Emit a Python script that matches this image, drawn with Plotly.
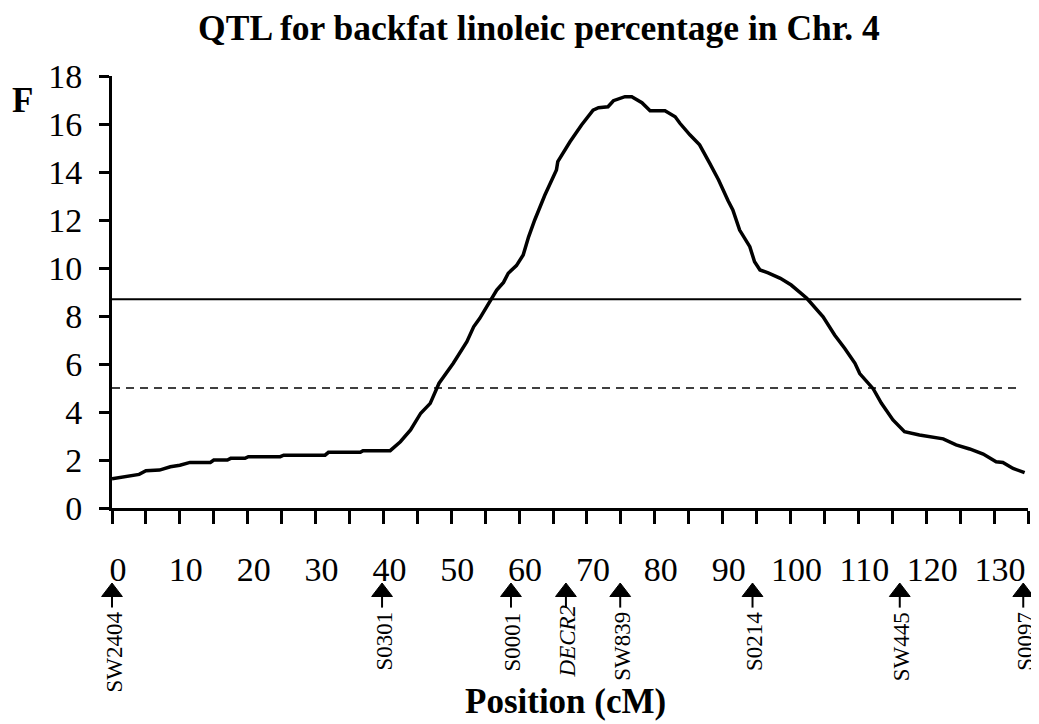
import plotly.graph_objects as go

# ---- data ----
position_cm = [0, 2, 4, 5, 7, 8.6, 10, 11.5, 14.5, 15, 17, 17.5, 19.6, 20.1, 24.8, 25.3,
               31.4, 31.9, 36.6, 37, 41, 42.5, 44, 45.5, 46.9, 48.2, 50.3, 52.3, 53.3, 54.2,
               55.7, 56.7, 57.7, 58.4, 59.6, 60.6, 61.4, 62.3, 63.8, 65.5, 65.7, 67.5, 69.2,
               70.9, 71.7, 73.1, 73.9, 75.6, 76.6, 78.1, 79.3, 81.5, 83, 83.7, 85.2, 86.6,
               88.1, 89.4, 90.8, 91.5, 92.5, 94, 94.7, 95.5, 96.7, 98.5, 100.1, 102.4, 104.8,
               106.5, 108, 109.5, 110.2, 112.2, 113.4, 115.1, 116.8, 119, 122.5, 124.4, 126.4,
               128.4, 130.3, 131.3, 132.8, 134.5]
f_value = [1.22, 1.32, 1.40, 1.55, 1.58, 1.72, 1.78, 1.90, 1.90, 2.00, 2.00, 2.07, 2.07, 2.14,
           2.14, 2.20, 2.20, 2.32, 2.32, 2.39, 2.39, 2.76, 3.25, 3.95, 4.36, 5.20, 6.03, 6.93,
           7.55, 7.90, 8.60, 9.08, 9.40, 9.78, 10.10, 10.54, 11.30, 12.00, 13.04, 14.08, 14.43,
           15.26, 15.96, 16.58, 16.68, 16.72, 16.97, 17.14, 17.14, 16.89, 16.55, 16.55, 16.30,
           16.03, 15.54, 15.13, 14.36, 13.67, 12.80, 12.42, 11.58, 10.89, 10.26, 9.92, 9.80,
           9.57, 9.29, 8.74, 7.97, 7.21, 6.65, 6.03, 5.60, 4.96, 4.36, 3.67, 3.18, 3.04, 2.88,
           2.63, 2.46, 2.25, 1.93, 1.90, 1.65, 1.47]

threshold_span = [0, 134]
threshold_solid = 8.7
threshold_dashed = 5.0

marker_names = ["SW2404", "S0301", "S0001", "<i>DECR2</i>", "SW839", "S0214", "SW445", "S0097"]
marker_pos = [0, 39.8, 58.8, 66.9, 74.9, 94.4, 116.1, 134.3]

x_tick_vals = list(range(0, 136, 5))
x_tick_text = [str(v) if v % 10 == 0 else "" for v in x_tick_vals]

# ---- style ----
FONT = "Liberation Serif, Times New Roman, serif"
W, H = 1031, 716          # page body has an 8px margin inside the 1039x724 window
ML, MR, MT, MB = 104, 11, 68, 10
PLOT_BOTTOM = 500         # figure px where F = 0
Y_DOMAIN_LOW = (H - MB - PLOT_BOTTOM) / (H - MT - MB)
# y2 = strip under the x axis, measured in px below the axis
ARROW_Y = -84
STEM_Y = -94
LABEL_Y = -102
label_yshift = {"<i>DECR2</i>": 8}

fig = go.Figure()

fig.add_trace(go.Scatter(x=threshold_span, y=[threshold_solid] * 2, mode="lines",
                         line=dict(color="black", width=2), hoverinfo="skip"))
fig.add_trace(go.Scatter(x=threshold_span, y=[threshold_dashed] * 2, mode="lines",
                         line=dict(color="black", width=1.3, dash="8px,6px"), hoverinfo="skip"))
fig.add_trace(go.Scatter(x=position_cm, y=f_value, mode="lines",
                         line=dict(color="black", width=3.5)))

# marker arrows
fig.add_trace(go.Scatter(x=marker_pos, y=[STEM_Y] * len(marker_pos), mode="markers",
                         yaxis="y2",
                         marker=dict(symbol="line-ns", size=8,
                                     line=dict(color="black", width=2)),
                         cliponaxis=False, hoverinfo="skip"))
fig.add_trace(go.Scatter(x=marker_pos, y=[ARROW_Y] * len(marker_pos), mode="markers",
                         yaxis="y2",
                         marker=dict(symbol="triangle-up", size=18, color="black",
                                     line=dict(color="black", width=1)),
                         cliponaxis=False, hoverinfo="skip"))

for name, pos in zip(marker_names, marker_pos):
    fig.add_annotation(x=pos, y=LABEL_Y, xref="x", yref="y2", text=name, showarrow=False,
                       textangle=-90, xanchor="center", yanchor="top", xshift=2,
                       yshift=label_yshift.get(name, 0),
                       font=dict(family=FONT, size=23, color="black"))

fig.add_annotation(x=-0.098, y=0.944, xref="paper", yref="y domain", text="<b>F</b>",
                   showarrow=False, xanchor="center", yanchor="middle",
                   font=dict(family=FONT, size=35, color="black"))

fig.add_annotation(x=0.5, y=-0.449, xref="paper", yref="y domain",
                   text="<b>Position (cM)</b>", showarrow=False, xanchor="center",
                   yanchor="middle", xshift=-5,
                   font=dict(family=FONT, size=35, color="black"))

fig.update_layout(
    width=W, height=H,
    margin=dict(l=ML, r=MR, t=MT, b=MB, autoexpand=False),
    paper_bgcolor="white", plot_bgcolor="white",
    showlegend=False,
    font=dict(family=FONT, size=35, color="black"),
    title=dict(text="<b>QTL for backfat linoleic percentage in Chr. 4</b>",
               x=0.515, xanchor="center", y=1 - 19.5 / H, yanchor="middle",
               font=dict(family=FONT, size=35.5, color="black")),
    xaxis=dict(range=[0, 135], tickmode="array", tickvals=x_tick_vals, ticktext=x_tick_text,
               anchor="y", automargin=False,
               showline=True, linecolor="black", linewidth=3, ticks="outside",
               ticklen=13, tickwidth=3, tickcolor="black", showgrid=False, zeroline=False,
               ticklabelstandoff=16, ticklabelshift=6,
               tickfont=dict(family=FONT, size=34, color="black")),
    yaxis=dict(range=[0, 18], dtick=2, domain=[Y_DOMAIN_LOW, 1], automargin=False,
               showline=True, linecolor="black", linewidth=3,
               ticks="outside", ticklen=10, tickwidth=3, tickcolor="black",
               showgrid=False, zeroline=False, ticklabelstandoff=10,
               tickfont=dict(family=FONT, size=34, color="black")),
    yaxis2=dict(range=[-(H - MB - PLOT_BOTTOM), 0], domain=[0, Y_DOMAIN_LOW],
                visible=False, fixedrange=True),
)

fig.write_html("out.html")
